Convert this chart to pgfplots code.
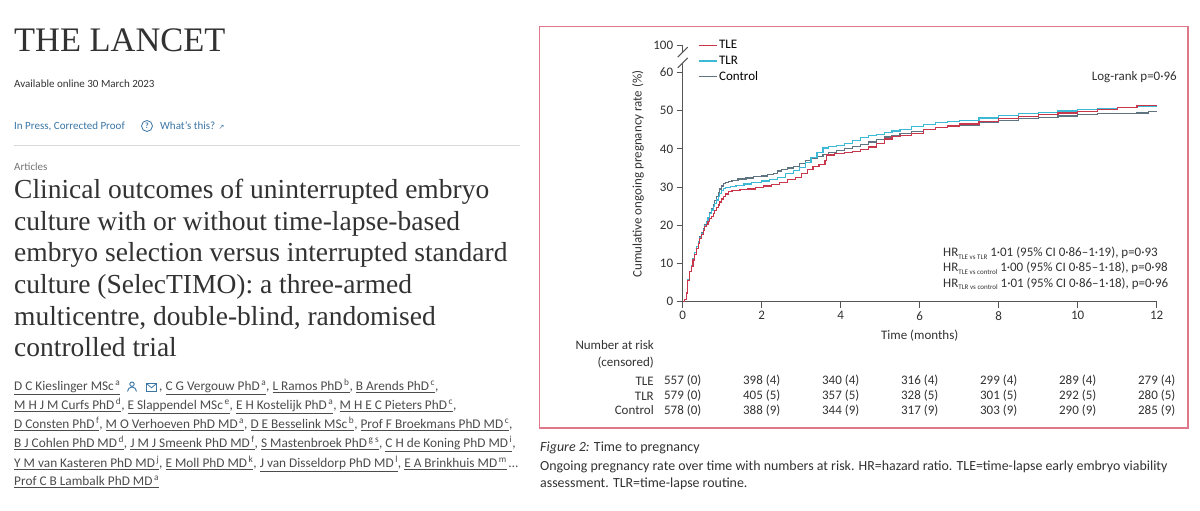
\documentclass[border=0pt]{standalone}
\usepackage{pgfplots}
\usepackage{pgfplotstable}
\pgfplotsset{compat=1.18}
\usepackage{fontspec}
\setmainfont{Carlito}
\newfontfamily\serif{Liberation Serif}
\newfontfamily\dejavu{DejaVu Sans}

\definecolor{redTLE}{RGB}{200,55,75}
\definecolor{cyanTLR}{RGB}{60,185,215}
\definecolor{grayCTL}{RGB}{95,115,128}
\definecolor{frame}{RGB}{222,120,138}
\definecolor{ink}{RGB}{50,50,50}
\definecolor{link}{RGB}{58,118,165}
\definecolor{axgray}{RGB}{85,85,85}

\newcommand\chart{\fontsize{13}{15}\selectfont}
\newcommand\au[2]{\underline{#1\textsuperscript{\,#2}}}

% cumulative ongoing pregnancy rate (%) over time (months)
\pgfplotstableread{
t v
0 0
0.05 0.5
0.09 2.3
0.13 5.5
0.18 7.8
0.22 9.2
0.26 10.9
0.30 12.4
0.35 14.0
0.39 15.3
0.43 16.5
0.47 17.5
0.52 18.6
0.56 19.6
0.60 20.3
0.64 21.0
0.68 21.7
0.72 22.3
0.77 23.0
0.81 23.8
0.85 24.6
0.90 25.3
0.94 26.1
0.98 26.9
1.03 27.6
1.08 28.2
1.15 28.8
1.25 29.1
1.45 29.3
1.65 29.5
1.85 29.9
2.05 30.3
2.25 30.7
2.45 31.2
2.65 32.0
2.85 32.6
3.00 33.5
3.15 34.5
3.30 35.4
3.45 36.0
3.60 36.9
3.65 38.4
3.85 38.7
4.10 39.0
4.30 39.4
4.50 39.8
4.70 40.5
4.90 41.5
5.10 42.6
5.30 43.2
5.50 43.4
5.80 44.0
6.10 45.0
6.40 45.6
6.70 46.0
7.00 46.5
7.50 47.2
8.00 47.9
8.50 48.5
9.00 49.0
9.50 49.4
10.00 49.8
10.50 50.4
11.00 50.9
11.50 51.4
12.00 51.5
}\tabTLE

\pgfplotstableread{
t v
0 0
0.05 0.5
0.09 2.5
0.13 5.8
0.18 8.0
0.22 9.5
0.26 11.2
0.30 12.8
0.35 14.4
0.39 15.7
0.43 16.9
0.47 17.9
0.52 19.0
0.56 20.0
0.60 20.9
0.64 21.9
0.68 23.0
0.72 24.0
0.77 25.0
0.81 25.8
0.85 26.6
0.90 27.5
0.94 28.3
0.98 29.0
1.03 29.6
1.08 29.9
1.20 30.2
1.35 30.4
1.55 30.8
1.75 31.2
2.00 31.6
2.20 32.0
2.40 32.6
2.60 33.5
2.80 34.3
2.95 35.2
3.10 36.5
3.25 37.8
3.40 39.0
3.55 40.2
3.70 40.6
3.90 40.9
4.10 41.5
4.30 42.2
4.50 42.9
4.70 43.4
4.90 43.8
5.10 44.3
5.30 44.7
5.50 45.1
5.80 45.8
6.10 46.4
6.40 46.9
6.70 47.2
7.00 47.5
7.50 48.1
8.00 48.7
8.50 49.2
9.00 49.5
9.50 49.9
10.00 50.3
10.50 50.6
11.00 50.9
11.50 51.2
12.00 51.3
}\tabTLR

\pgfplotstableread{
t v
0 0
0.05 0.5
0.09 2.5
0.13 5.8
0.18 8.0
0.22 9.5
0.26 11.2
0.30 12.8
0.35 14.5
0.39 15.8
0.43 17.0
0.47 18.0
0.52 19.1
0.56 20.1
0.60 21.0
0.64 22.0
0.68 23.2
0.72 24.4
0.77 25.5
0.81 26.4
0.85 27.5
0.90 28.5
0.94 29.5
0.98 30.3
1.03 30.9
1.08 31.2
1.15 31.5
1.25 31.8
1.40 32.1
1.60 32.4
1.80 32.7
2.00 32.9
2.15 33.2
2.30 33.6
2.40 34.2
2.50 34.6
2.65 35.0
2.80 35.4
2.95 36.2
3.10 36.9
3.25 37.5
3.40 38.0
3.55 38.6
3.70 39.0
3.90 39.5
4.10 40.0
4.30 40.6
4.50 41.2
4.70 41.8
4.90 42.5
5.10 43.1
5.30 43.6
5.50 44.0
5.80 44.5
6.10 45.0
6.40 45.5
6.70 45.9
7.00 46.2
7.50 46.8
8.00 47.4
8.50 47.9
9.00 48.3
9.50 48.6
10.00 48.9
10.50 49.2
11.00 49.3
11.50 49.4
11.80 49.7
12.00 50.0
}\tabCTL

\begin{document}
\begin{tikzpicture}[x=1pt,y=1pt]
\fill[white] (0,0) rectangle (1200,511);

% ---------- left: article header ----------
\node[anchor=base west, inner sep=0, font=\serif\fontsize{34.4}{36}\selectfont, text=ink] at (14,459) {THE LANCET};
\node[anchor=west, inner sep=0, font=\fontsize{11}{12}\selectfont, text=ink] at (14,427) {Available online 30 March 2023};
\node[anchor=west, inner sep=0, font=\fontsize{11}{12}\selectfont, text=link] at (14,385) {In Press, Corrected Proof};
\draw[link, line width=0.8pt] (147,385) circle (5.5);
\node[inner sep=0, font=\fontsize{8}{8}\selectfont\bfseries, text=link] at (147,385) {?};
\node[anchor=west, inner sep=0, font=\fontsize{11}{12}\selectfont, text=link] at (160,385) {What's this? {\dejavu\fontsize{7}{7}\selectfont ↗}};
\draw[black!15, line width=1pt] (14,365) -- (520,365);
\node[anchor=west, inner sep=0, font=\fontsize{11}{12}\selectfont, text=black!55] at (14,344) {Articles};

\foreach \y/\s in {312.5/Clinical outcomes of uninterrupted embryo,
                   280.8/culture with or without time-lapse-based,
                   249.1/embryo selection versus interrupted standard,
                   217.4/culture (SelecTIMO): a three-armed,
                   185.7/{multicentre, double-blind, randomised},
                   154/controlled trial}
  \node[anchor=base west, inner sep=0, font=\serif\fontsize{27.5}{30}\selectfont, text=ink] at (14,\y) {\s};

\begin{scope}[every node/.style={anchor=base west, inner sep=0, font=\fontsize{13.3}{14}\selectfont, text=black!70}]
\node at (14,120.3) {\au{D C Kieslinger MSc}{a}};
\node at (159,120.3) {, \au{C G Vergouw PhD}{a}, \au{L Ramos PhD}{b}, \au{B Arends PhD}{c},};
\node at (14,101.7) {\au{M H J M Curfs PhD}{d}, \au{E Slappendel MSc}{e}, \au{E H Kostelijk PhD}{a}, \au{M H E C Pieters PhD}{c},};
\node at (14,82) {\au{D Consten PhD}{f}, \au{M O Verhoeven PhD MD}{a}, \au{D E Besselink MSc}{b}, \au{Prof F Broekmans PhD MD}{c},};
\node at (14,63.3) {\au{B J Cohlen PhD MD}{d}, \au{J M J Smeenk PhD MD}{f}, \au{S Mastenbroek PhD}{g s}, \au{C H de Koning PhD MD}{i},};
\node at (14,43.7) {\au{Y M van Kasteren PhD MD}{j}, \au{E Moll PhD MD}{k}, \au{J van Disseldorp PhD MD}{l}, \au{E A Brinkhuis MD}{m}\,\dots};
\node at (14,25) {\au{Prof C B Lambalk PhD MD}{a}};
\end{scope}
% author icons
\draw[link, line width=0.9pt] (132,126.8) circle (2.2);
\draw[link, line width=0.9pt] (127.5,119.5) arc[start angle=180, end angle=0, radius=4.5];
\draw[link, line width=0.9pt] (146.5,119.5) rectangle (156.5,127.5);
\draw[link, line width=0.8pt] (146.5,127.5) -- (151.5,123.2) -- (156.5,127.5);

% ---------- right: figure ----------
\draw[frame, line width=1.2pt] (539.5,83) rectangle (1188,484.5);

\begin{axis}[
  at={(682.7pt,209.3pt)}, anchor=south west,
  scale only axis, width=474pt, height=256pt,
  xmin=0, xmax=12, ymin=0, ymax=67,
  axis x line=bottom, axis y line=left,
  axis line style={-},
  x axis line style={axgray, line width=1.1pt},
  y axis line style={draw=none},
  xtick={0,2,4,6,8,10,12},
  xticklabels={0,2,4,6,8,10,12},
  ytick={0,10,20,30,40,50,60,67},
  yticklabels={0,10,20,30,40,50,60,100},
  tick align=outside, major tick length=6pt,
  tick style={axgray, line width=1pt},
  ticklabel style={font=\chart, text=ink},
  /pgf/number format/assume math mode=true,
  clip=false,
  reverse legend,
  legend cell align=left,
  legend style={at={([xshift=15pt,yshift=8.2pt]rel axis cs:0,1)}, anchor=north west,
    draw=none, fill=none, inner sep=0pt, row sep=0.8pt, font=\chart,
    nodes={text height=9pt, text depth=2pt, inner sep=2pt}},
  legend image code/.code={\draw[#1, sharp plot] (0pt,0pt) -- (18pt,0pt);},
]
\addplot[color=grayCTL, line width=1.2pt, const plot] table[x=t, y=v] {\tabCTL};
\addlegendentry{Control}
\addplot[color=cyanTLR, line width=1.2pt, const plot] table[x=t, y=v] {\tabTLR};
\addlegendentry{TLR}
\addplot[color=redTLE, line width=1.2pt, const plot] table[x=t, y=v] {\tabTLE};
\addlegendentry{TLE}

% broken y axis
\draw[axgray, line width=1.1pt] (axis cs:0,0) -- (axis cs:0,62.5);
\draw[axgray, line width=1.1pt] (axis cs:0,65.3) -- (axis cs:0,67);
\draw[axgray, line width=1pt] ([xshift=-5pt,yshift=-5pt]axis cs:0,62.5) -- ([xshift=5pt,yshift=5pt]axis cs:0,62.5);
\draw[axgray, line width=1pt] ([xshift=-5pt,yshift=-5pt]axis cs:0,65.3) -- ([xshift=5pt,yshift=5pt]axis cs:0,65.3);
\end{axis}

\begin{scope}[every node/.style={inner sep=0, font=\chart, text=ink}]
\node[rotate=90] at (638,337) {Cumulative ongoing pregnancy rate (\%)};
\node at (919.7,175) {Time (months)};
\node[anchor=east] at (1177,433.7) {Log-rank p=0·96};
\newcommand\hr[1]{HR\raisebox{-2.5pt}{\fontsize{7}{7}\selectfont #1}}
\node[anchor=west] at (943,257.7) {\hr{TLE vs TLR} 1·01 (95\% CI 0·86–1·19), p=0·93};
\node[anchor=west] at (943,242.7) {\hr{TLE vs control} 1·00 (95\% CI 0·85–1·18), p=0·98};
\node[anchor=west] at (943,227) {\hr{TLR vs control} 1·01 (95\% CI 0·86–1·18), p=0·96};

\node[anchor=east] at (654,166) {Number at risk};
\node[anchor=east] at (654,148.3) {(censored)};
\node[anchor=east] at (654,130) {TLE};
\node[anchor=east] at (654,115) {TLR};
\node[anchor=east] at (654,100.5) {Control};
\foreach \v [count=\i from 0] in {557 (0),398 (4),340 (4),316 (4),299 (4),289 (4),279 (4)}
  \node at (682.7+79*\i,130) {\v};
\foreach \v [count=\i from 0] in {579 (0),405 (5),357 (5),328 (5),301 (5),292 (5),280 (5)}
  \node at (682.7+79*\i,115) {\v};
\foreach \v [count=\i from 0] in {578 (0),388 (9),344 (9),317 (9),303 (9),290 (9),285 (9)}
  \node at (682.7+79*\i,100.5) {\v};

\node[anchor=west, font=\fontsize{14}{14}\selectfont] at (540,62.7) {\textit{Figure 2:} Time to pregnancy};
\node[anchor=west, font=\fontsize{13.9}{14}\selectfont] at (540,44.3) {Ongoing pregnancy rate over time with numbers at risk. HR=hazard ratio. TLE=time-lapse early embryo viability};
\node[anchor=west, font=\fontsize{13.9}{14}\selectfont] at (540,27.7) {assessment. TLR=time-lapse routine.};
\end{scope}
\end{tikzpicture}
\end{document}
